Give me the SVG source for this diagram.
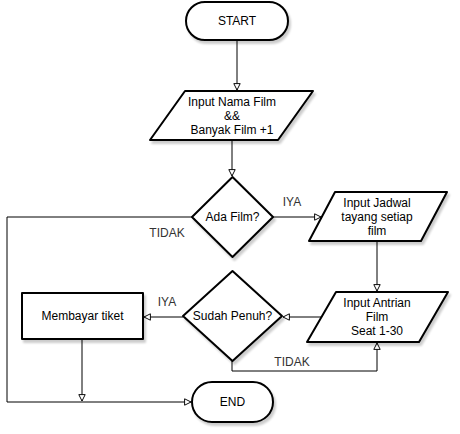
<svg xmlns="http://www.w3.org/2000/svg" width="460" height="434" viewBox="0 0 460 434">
<style>
.shape{fill:#fff;stroke:#000;stroke-width:2;filter:url(#sh);stroke-linejoin:round}
.t{font-family:"Liberation Sans",Arial,sans-serif;font-size:12px;fill:#000;text-anchor:middle;dominant-baseline:central}
.lbl{font-family:"Liberation Sans",Arial,sans-serif;font-size:12px;fill:#333;text-anchor:middle;dominant-baseline:central}
.edge{fill:none;stroke:#000;stroke-width:1;marker-end:url(#arr)}
.line{fill:none;stroke:#000;stroke-width:1}
</style>
<defs>
<filter id="sh" x="-20%" y="-20%" width="150%" height="150%">
<feGaussianBlur in="SourceAlpha" stdDeviation="1.2"/>
<feOffset dx="2" dy="3" result="b"/>
<feComponentTransfer><feFuncA type="linear" slope="0.2"/></feComponentTransfer>
<feMerge><feMergeNode/><feMergeNode in="SourceGraphic"/></feMerge>
</filter>
<marker id="arr" viewBox="0 0 10 10" refX="9" refY="5" markerWidth="8" markerHeight="8" markerUnits="userSpaceOnUse" orient="auto">
<path d="M1,1 L9,5 L1,9 Z" fill="#fff" stroke="#000" stroke-width="1.2"/>
</marker>
</defs>
<g id="connectors">
<path class="edge" d="M237,40 V90"/>
<path class="edge" d="M232,140 V176"/>
<path class="edge" d="M273,217 H321"/>
<path class="edge" d="M377,241 V291"/>
<path class="edge" d="M321,317 H283"/>
<path class="edge" d="M183,317 H144"/>
<path class="edge" d="M82,339 V401"/>
<path class="edge" d="M232,361 V371 H377 V343"/>
<path class="edge" d="M192,217 H7 V402 H191"/>
<text class="lbl" x="292" y="202">IYA</text>
<text class="lbl" x="167" y="233">TIDAK</text>
<text class="lbl" x="167" y="302">IYA</text>
<text class="lbl" x="292" y="362">TIDAK</text>
</g>
<g id="start">
<rect class="shape" x="186" y="2" width="102" height="38" rx="19" ry="19"/>
<text class="t" x="237" y="21">START</text>
</g>
<g id="input-nama-film">
<path class="shape" d="M185,91 H313 L278,140 H150 Z"/>
<text class="t" x="232" y="102">Input Nama Film</text>
<text class="t" x="232" y="116">&amp;&amp;</text>
<text class="t" x="232" y="130">Banyak Film +1</text>
</g>
<g id="ada-film">
<path class="shape" d="M232.5,177 L273,217 L232.5,257 L192,217 Z"/>
<text class="t" x="232.5" y="217">Ada Film?</text>
</g>
<g id="input-jadwal">
<path class="shape" d="M335,192 H447 L421,241 H309 Z"/>
<text class="t" x="377" y="203">Input Jadwal</text>
<text class="t" x="377" y="217">tayang setiap</text>
<text class="t" x="377" y="231">film</text>
</g>
<g id="input-antrian">
<path class="shape" d="M336,292 H448 L419,342 H307 Z"/>
<text class="t" x="377" y="303">Input Antrian</text>
<text class="t" x="377" y="317">Film</text>
<text class="t" x="377" y="331">Seat 1-30</text>
</g>
<g id="sudah-penuh">
<path class="shape" d="M232.5,271 L282,316 L232.5,361 L183,316 Z"/>
<text class="t" x="232.5" y="316">Sudah Penuh?</text>
</g>
<g id="membayar-tiket">
<rect class="shape" x="22" y="293" width="121" height="46"/>
<text class="t" x="82.5" y="316">Membayar tiket</text>
</g>
<g id="end">
<rect class="shape" x="192" y="382" width="81" height="40" rx="20" ry="20"/>
<text class="t" x="232.5" y="402">END</text>
</g>
</svg>
